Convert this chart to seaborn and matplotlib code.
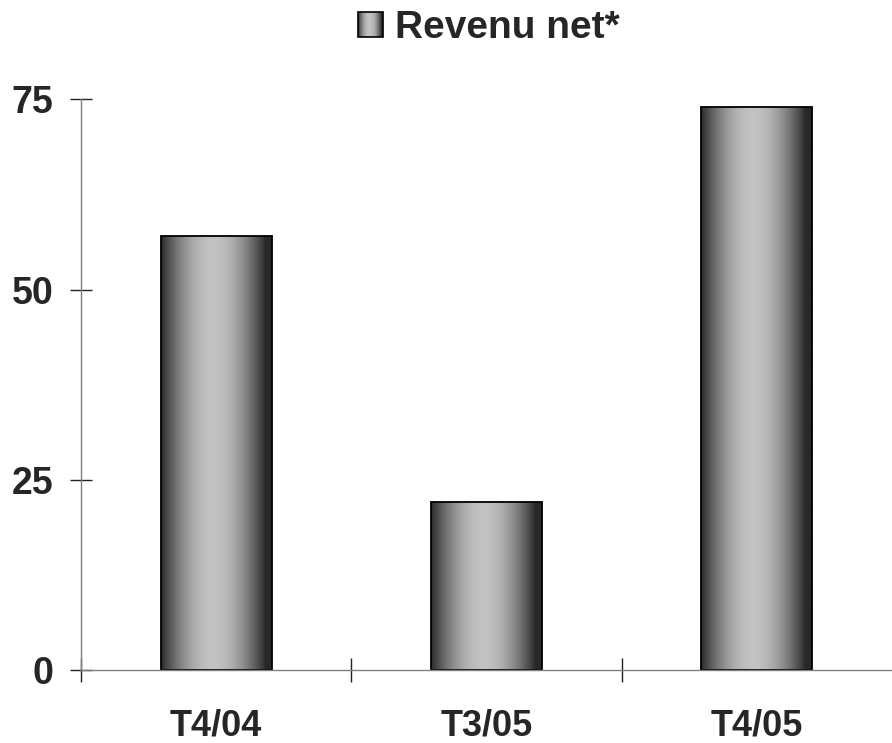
import numpy as np
import matplotlib
matplotlib.use("Agg")
import matplotlib.pyplot as plt
from matplotlib.patches import Rectangle, Patch
from matplotlib.legend_handler import HandlerBase
import seaborn as sns

# chart data
quarters = ["T4/04", "T3/05", "T4/05"]
revenue = [57, 22, 74]
y_ticks = [0, 25, 50, 75]
legend_label = "Revenu net*"

sns.set_style("white")
plt.rcParams["font.family"] = ["Liberation Sans", "DejaVu Sans"]
plt.rcParams["font.weight"] = "bold"

# horizontal "cylinder" shading used for the bars and the legend key
t = np.linspace(0, 1, 200)
shade = 0.16 + 0.60 * np.sin(np.pi * np.clip(t * 1.06, 0, 1)) ** 0.9
gradient = np.tile(shade, (2, 1))


class GradientHandler(HandlerBase):
    def create_artists(self, legend, orig_handle, xdescent, ydescent,
                       width, height, fontsize, trans):
        n = 24
        arts = []
        for i in range(n):
            v = np.interp((i + 0.5) / n, t, shade)
            arts.append(Rectangle((-xdescent + i * width / n, -ydescent),
                                  width / n + 0.3, height,
                                  facecolor=(v, v, v), edgecolor="none",
                                  transform=trans))
        arts.append(Rectangle((-xdescent, -ydescent), width, height,
                              facecolor="none", edgecolor="black",
                              linewidth=1.2, transform=trans))
        return arts


fig = plt.figure(figsize=(8.92, 7.43), dpi=100)
ax = fig.add_axes([0.0908, 0.0986, 0.9092, 0.7675])

sns.barplot(x=quarters, y=revenue, width=0.41, color="#888888",
            edgecolor="black", linewidth=1.3, ax=ax)

for bar in ax.patches:
    x0, y0 = bar.get_x(), bar.get_y()
    w, h = bar.get_width(), bar.get_height()
    ax.imshow(gradient, cmap="gray", vmin=0, vmax=1, aspect="auto",
              extent=(x0, x0 + w, y0, y0 + h), zorder=bar.get_zorder() - 0.01,
              interpolation="bilinear")
    bar.set_facecolor("none")

ax.set_xlim(-0.5, 2.5)
ax.set_ylim(0, 75)

for side in ["top", "right"]:
    ax.spines[side].set_visible(False)
for side in ["left", "bottom"]:
    ax.spines[side].set_color("#808080")
    ax.spines[side].set_linewidth(1.0)

ax.set_yticks(y_ticks)
ax.set_yticklabels([str(v) for v in y_ticks], fontsize=27, fontweight="bold")
ax.tick_params(axis="y", left=True, direction="inout", length=16, width=1,
               color="#222222", pad=12)

# ticks at the category boundaries, labels at the category centres
ax.set_xticks([-0.5, 0.5, 1.5])
ax.set_xticklabels([])
ax.set_xticks(range(len(quarters)), minor=True)
ax.set_xticklabels(quarters, minor=True, fontsize=26, fontweight="bold")
ax.tick_params(axis="x", which="major", bottom=True, direction="inout",
               length=17, width=1, color="#222222")
ax.tick_params(axis="x", which="minor", bottom=True, length=0, pad=28)
ax.set_xlabel("")
ax.set_ylabel("")
for s in ax.spines.values():
    s.set_clip_on(False)

ax.legend(handles=[Patch(label=legend_label)],
          handler_map={Patch: GradientHandler()},
          loc="center", bbox_to_anchor=(0.548, 0.962),
          bbox_transform=fig.transFigure, frameon=False,
          prop={"size": 28, "weight": "bold"},
          handlelength=0.64, handleheight=0.64, handletextpad=0.31,
          borderpad=0)

fig.savefig("out.png", dpi=100)
